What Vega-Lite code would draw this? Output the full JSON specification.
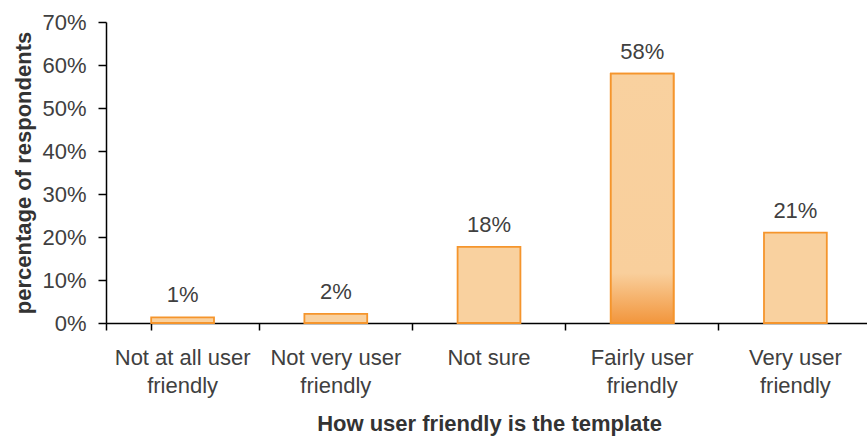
{
  "$schema": "https://vega.github.io/schema/vega-lite/v6.json",
  "autosize": "none",
  "width": 761,
  "height": 301,
  "padding": {"left": 106, "top": 22, "right": 0, "bottom": 113},
  "background": "white",
  "config": {
    "view": {"stroke": null},
    "font": "Liberation Sans",
    "axis": {"labelFont": "Liberation Sans", "titleFont": "Liberation Sans", "labelColor": "#404040", "titleColor": "#333333", "domainColor": "#000000", "tickColor": "#000000", "domainWidth": 1.5, "tickWidth": 1.5}
  },
  "data": {
    "values": [
      {"category": "Not at all user friendly", "share": 0.013},
      {"category": "Not very user friendly", "share": 0.021},
      {"category": "Not sure", "share": 0.177},
      {"category": "Fairly user friendly", "share": 0.58},
      {"category": "Very user friendly", "share": 0.21}
    ]
  },
  "encoding": {
    "x": {
      "field": "category", "type": "nominal", "sort": null,
      "scale": {"range": [0, 766], "paddingInner": 0.59, "paddingOuter": 0.295},
      "axis": {
        "title": "How user friendly is the template",
        "titleFontSize": 22, "titleFontWeight": "bold",
        "titleX": 383, "titleY": 107, "titleBaseline": "alphabetic", "titleAlign": "center",
        "labelAngle": 0, "labelFontSize": 22, "labelBaseline": "alphabetic", "labelLineHeight": 28,
        "labelPadding": 34, "ticks": true, "tickSize": 7, "bandPosition": -0.7195, "tickExtra": true,
        "labelExpr": "indexof(datum.label, ' friendly') > 0 ? [replace(datum.label, ' friendly', ''), 'friendly'] : datum.label"
      }
    },
    "y": {
      "field": "share", "type": "quantitative",
      "scale": {"domain": [0, 0.7]},
      "axis": {
        "title": "percentage of respondents", "titleFontSize": 22, "titleFontWeight": "bold", "titlePadding": 6,
        "format": ".0%", "values": [0, 0.1, 0.2, 0.3, 0.4, 0.5, 0.6, 0.7],
        "grid": false, "labelFontSize": 22, "labelPadding": 12, "tickSize": 8
      }
    }
  },
  "layer": [
    {"mark": {"type": "bar", "fill": "#F9D19F", "stroke": "#F5952C", "strokeWidth": 1.8}},
    {
      "transform": [{"filter": "datum.category == 'Fairly user friendly'"}],
      "mark": {
        "type": "bar", "stroke": "#F5952C", "strokeWidth": 1.8,
        "fill": {"gradient": "linear", "x1": 0, "y1": 0, "x2": 0, "y2": 1,
          "stops": [{"offset": 0, "color": "#F9D19F"}, {"offset": 0.8, "color": "#F9CF9C"}, {"offset": 1, "color": "#F2963D"}]}
      }
    },
    {
      "mark": {"type": "text", "baseline": "alphabetic", "dy": -15, "fontSize": 22, "color": "#404040", "font": "Liberation Sans"},
      "encoding": {"text": {"field": "share", "type": "quantitative", "format": ".0%"}}
    }
  ]
}
